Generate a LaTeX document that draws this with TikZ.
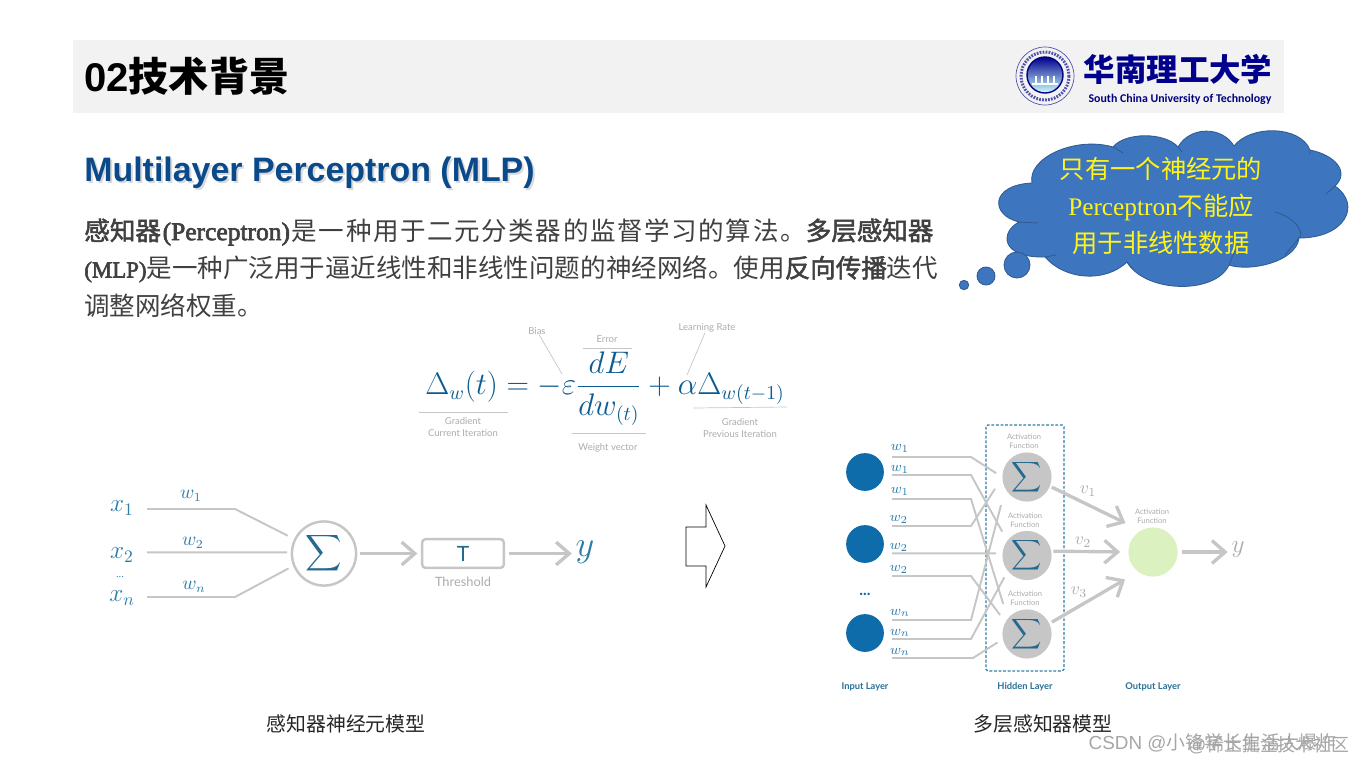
\documentclass[tikz,border=0pt]{standalone}
\usepackage{amsmath}
\usepackage[no-math]{fontspec}
\setmainfont{Liberation Serif}
\setsansfont{Liberation Sans}
\newfontfamily\cjk{Noto Sans CJK SC}
\newfontfamily\cjkbold[FakeBold=2]{Noto Sans CJK SC}
\newfontfamily\cjkwide[LetterSpace=6.3]{Noto Sans CJK SC}
\newfontfamily\enbold[FakeBold=2.5]{Liberation Serif}
\newfontfamily\latosans{Lato}
\newfontfamily\carlitosans{Carlito}
\usetikzlibrary{arrows.meta}
\newcommand{\cn}[1]{{\cjk #1}}
\newcommand{\fsz}[1]{\fontsize{#1}{1.2\dimexpr #1pt\relax}\selectfont}
\definecolor{band}{HTML}{F2F2F2}
\definecolor{wiregray}{HTML}{C6C6C6}
\definecolor{labelgray}{HTML}{ABABAB}
\definecolor{inkblue}{HTML}{2C7CA8}
\definecolor{deepblue}{HTML}{0F6CAB}
\definecolor{cloudblue}{HTML}{3D76BF}
\definecolor{cloudline}{HTML}{2F5C93}
\definecolor{headblue}{HTML}{0B4A8A}

\begin{document}
\begin{tikzpicture}[x=0.02cm, y=-0.02cm, node distance={1.57cm},
    bodyline/.style = {anchor=west, inner sep=0pt, text=black!75, font=\fsz{14.53}},
    caption/.style = {inner sep=0pt, text=black!85, font=\fsz{11.3}},
    wire/.style = {draw=wiregray, line width=1.1pt},
    thick wire/.style = {draw=wiregray, line width=1.9pt, -{Straight Barb[length=7.5pt,width=13pt]}},
    thin rule/.style = {draw=wiregray, line width=0.4pt},
    note/.style = {inner sep=0pt, align=center, text=labelgray, font=\latosans\fsz{5.4}},
    actnote/.style = {inner sep=0pt, align=center, text=labelgray, font=\latosans\fsz{4.3}},
    weight/.style = {inner sep=0pt, text=inkblue, font=\fsz{8.5}},
    bigweight/.style = {inner sep=0pt, text=inkblue, font=\fsz{10.5}},
    invalue/.style = {inner sep=0pt, text=inkblue, font=\fsz{14}},
    sumnode/.style = {draw=none, circle, fill=wiregray, minimum size=28pt, inner sep=0pt, text=inkblue!85!black, font=\fsz{11.5}},
    innode/.style = {circle, fill=deepblue, minimum size=21.5pt, inner sep=0pt},
    layerlb/.style = {inner sep=0pt, text=inkblue!90!black, font=\latosans\bfseries\fsz{5.3}},
    vlabel/.style = {inner sep=0pt, text=labelgray, font=\fsz{10}}]

    \useasboundingbox (0,0) rectangle (1355,762);

    % header
    \fill[band] (73,40) rectangle (1284,113);
    \node[anchor=west, inner sep=0pt, font=\sffamily\bfseries\fsz{22.8}] (title) at (84,76) {02\cn{技术背景}};

    \shade[top color=blue!55!black, bottom color=cyan!20, draw=blue!50!black, line width=0.8pt] (1045,75) circle (18);
    \draw[blue!35!gray, line width=1.7pt, dash pattern=on 1pt off 0.7pt] (1045,76) circle (24);
    \draw[blue!35!gray, line width=0.4pt] (1045,76) circle (29);
    \draw[white, line width=0.8pt] (1032,84) -- (1058,84) (1036,76) -- (1036,84) (1042,76) -- (1042,84) (1048,76) -- (1048,84) (1054,76) -- (1054,84);
    \node[inner sep=0pt, text=blue!55!black, font=\cjk\bfseries\fsz{17.9}] (logoname) at (1178,69) {华南理工大学};
    \node[inner sep=0pt, text=blue!50!black, font=\carlitosans\bfseries\fsz{6.75}] (logoen) at (1180,99) {South China University of Technology};

    % text
    \node[anchor=west, inner sep=0pt, text=black!15, font=\sffamily\bfseries\fsz{19.3}] (subshadow) at (86,175) {Multilayer Perceptron (MLP)};
    \node[anchor=west, inner sep=0pt, text=headblue, font=\sffamily\bfseries\fsz{19.3}] (subhead) at (84,172.5) {Multilayer Perceptron (MLP)};

    \node[bodyline] (line1) at (84,232) {{\cjkbold 感知器}\hspace{1pt}{\enbold\fsz{14.5}(Perceptron)}\hspace{1pt}{\cjkwide 是一种用于二元分类器的监督学习的算法。}{\cjkbold 多层感知器}};
    \node[bodyline] (line2) at (84,269) {{\enbold\fsz{13}(MLP)}\cn{是一种广泛用于逼近线性和非线性问题的神经网络。使用}{\cjkbold 反向传播}\cn{迭代}};
    \node[bodyline] (line3) at (84,306) {\cn{调整网络权重。}};

    % cloud
    \filldraw[fill=cloudblue, draw=cloudline, line width=0.5pt] (1032,183)
        .. controls (1027,158) and (1075,136) .. (1113,147)
        .. controls (1125,132) and (1165,132) .. (1178,147)
        .. controls (1190,126) and (1222,126) .. (1234,146)
        .. controls (1250,125) and (1300,125) .. (1310,150)
        .. controls (1335,155) and (1350,172) .. (1335,186)
        .. controls (1362,205) and (1345,238) .. (1299,238)
        .. controls (1296,262) and (1250,272) .. (1229,265)
        .. controls (1215,295) and (1145,293) .. (1127,262)
        .. controls (1105,283) and (1065,280) .. (1045,257)
        .. controls (1000,258) and (1000,232) .. (1019,222)
        .. controls (990,215) and (990,185) .. (1032,183) -- cycle;
    \draw[cloudline, line width=0.5pt] (1113,147) -- (1123,153) (1178,147) -- (1182,152) (1310,150) -- (1310,154) (1335,186) -- (1326,194);
    \draw[cloudline, line width=0.5pt] (1275,212) .. controls (1297,218) and (1305,235) .. (1299,238) -- (1285,255);
    \draw[cloudline, line width=0.5pt] (1229,265) -- (1235,250) (1127,262) -- (1132,268) (1045,257) -- (1056,255) (1019,222) -- (1038,223);
    \filldraw[fill=cloudblue, draw=cloudline, line width=0.5pt] (1017,265) circle (13);
    \filldraw[fill=cloudblue, draw=cloudline, line width=0.5pt] (986,276) circle (9);
    \filldraw[fill=cloudblue, draw=cloudline, line width=0.5pt] (964,285) circle (4.7);
    \node[inner sep=0pt, align=center, text={yellow!90!white}, font=\fsz{14.4}] (cloudtext) at (1161,206) {\cn{只有一个神经元的}\\[4pt]Perceptron\cn{不能应}\\[4pt]\cn{用于非线性数据}};

    % formula
    \node[anchor=base, inner sep=0pt, text=deepblue!85!black, font=\fsz{16}] (gradeq) at (605,394.5) {\scalebox{1.026}{$\displaystyle \Delta_w(t) = -\varepsilon\frac{dE}{dw_{(t)}} + \alpha\Delta_{w(t-1)}$}};

    \node[note] (bias) at (537,331) {Bias};
    \node[note] (error) at (607,339) {Error};
    \node[note] (rate) at (707,328) {Learning Rate};
    \node[note] (gradnow) at (463,427) {Gradient\\Current Iteration};
    \node[note] (vector) at (608,448) {Weight vector};
    \node[note] (gradold) at (740,428) {Gradient\\Previous Iteration};

    \coordinate (biasend) at (562,374);
    \coordinate (rateend) at (687,375);
    \draw[thin rule] (bias) -- (biasend);
    \draw[thin rule] (rate) -- (rateend);
    \draw[thin rule] (583,348) -- (632,348);
    \draw[thin rule] (419,412) -- (508,412);
    \draw[thin rule] (572,433) -- (646,433);
    \draw[thin rule] (693,408) -- (787,407);

    % single neuron
    \node[invalue] (x1lb) at (122,508) {$x_1$};
    \node[invalue] (x2lb) at (122,555) {$x_2$};
    \node[inner sep=0pt, text=inkblue, font=\fsz{6}] (xdots) at (120,577) {...};
    \node[invalue] (xnlb) at (122,598) {$x_n$};

    \node[draw=wiregray, circle, line width=1.4pt, minimum size=36.5pt, inner sep=0pt, text=inkblue!85!black, font=\fsz{15}] (sum0) at (324,553.5) {$\displaystyle\sum$};
    \node[draw=wiregray, rounded corners=2pt, line width=1.4pt, minimum width=46.5pt, minimum height=16.4pt, inner sep=0pt, text=inkblue!85!black, font=\latosans\fsz{12}] (tbox) at (463,553.5) {T};
    \node[inner sep=0pt, text=labelgray, font=\latosans\fsz{7.3}] (thres) at (463,582) {Threshold};
    \node[inner sep=0pt, text=inkblue, font=\fsz{20}] (yout) at (585,552) {$y$};

    \coordinate (x1s) at (147,509);
    \coordinate (x2s) at (147,552.4);
    \coordinate (xns) at (147,597);
    \draw[wire, shorten >=4pt] (x1s) -- (235,509) -- (sum0.154);
    \draw[wire, shorten >=2pt] (x2s) -- (sum0.178);
    \draw[wire, shorten >=3pt] (xns) -- (235,597) -- (sum0.202);
    \draw[thick wire, shorten <=1.5pt, shorten >=2pt] (sum0.east) -- (tbox.west);
    \draw[thick wire, shorten <=2pt, shorten >=2pt] (tbox.east) -- (tbox.east -| yout.west);

    \node[bigweight] (w1lb) at (191,496) {$w_1$};
    \node[bigweight] (w2lb) at (193,543) {$w_2$};
    \node[bigweight] (wnlb) at (194,587) {$w_n$};

    % block arrow
    \draw[black, line width=0.4pt] (686,527) -- (706,527) -- (706,505) -- (725,546) -- (706,587) -- (706,566) -- (686,566) -- cycle;

    % network
    \node[innode] (in1) at (865,472) {};
    \node[innode] (in2) at (865,544) {};
    \node[innode] (in3) at (865,633) {};
    \node[inner sep=0pt, text=deepblue, font=\latosans\bfseries\fsz{9}] (indots) at (865,594) {...};

    \node[sumnode] (h1) at (1027,477) {$\displaystyle\sum$};
    \node[sumnode] (h2) [below of=h1] {$\displaystyle\sum$};
    \node[sumnode] (h3) [below of=h2] {$\displaystyle\sum$};
    \node[circle, fill={rgb,255:red,219;green,242;blue,192}, minimum size=28pt, inner sep=0pt] (o1) at (1153,552) {};
    \node[inner sep=0pt, text=labelgray, font=\fsz{14}] (y2) at (1238,549) {$y$};

    \draw[inkblue, line width=0.7pt, dash pattern=on 1.6pt off 1pt, rounded corners=1pt] (986,425) rectangle (1064,671);

    \node[actnote] (act1) at (1024,441) {Activation\\Function};
    \node[actnote] (act2) at (1025,520) {Activation\\Function};
    \node[actnote] (act3) at (1025,598) {Activation\\Function};
    \node[actnote] (act4) at (1152,516) {Activation\\Function};

    \coordinate (w1a) at (892,457);
    \coordinate (w1b) at (892,475);
    \coordinate (w1c) at (892,499);
    \coordinate (w2a) at (892,526);
    \coordinate (w2b) at (892,553.4);
    \coordinate (w2c) at (892,576);
    \coordinate (wna) at (892,620);
    \coordinate (wnb) at (892,639);
    \coordinate (wnc) at (892,658);

    \draw[wire, shorten >=4pt] (w1a) -- (971,457) -- (h1.180);
    \draw[wire, shorten >=5.7pt] (w1b) -- (971,475) -- (h2.143);
    \draw[wire, shorten >=8.5pt] (w1c) -- (971,499) -- (h3.141);
    \draw[wire, shorten >=7.4pt] (w2a) -- (971,526) -- (h1.182);
    \draw[wire, shorten >=3.5pt] (w2b) -- (h2.175);
    \draw[wire, shorten >=4.9pt] (w2c) -- (971,576) -- (h3.151);
    \draw[wire, shorten >=9.4pt] (wna) -- (971,620) -- (h1.209);
    \draw[wire, shorten >=4pt] (wnb) -- (971,639) -- (h2.219);
    \draw[wire, shorten >=3.4pt] (wnc) -- (973,658) -- (h3.192);

    \draw[thick wire, shorten >=9.5pt, shorten <=1pt] (h1.-22) -- (o1.120);
    \draw[thick wire, shorten >=4.5pt, shorten <=1pt] (h2.10) -- (o1.180);
    \draw[thick wire, shorten >=8.5pt, shorten <=1.5pt] (h3.25) -- (o1.-127);
    \draw[thick wire, shorten <=2.5pt, shorten >=2pt] (o1.east) -- (o1.east -| y2.west);

    \node[weight] (wa) at (900,448) {$w_1$};
    \node[weight] (wb) at (900,469) {$w_1$};
    \node[weight] (wc) at (900,491) {$w_1$};
    \node[weight] (wd) at (899,519) {$w_2$};
    \node[weight] (we) at (899,547) {$w_2$};
    \node[weight] (wf) at (899,569) {$w_2$};
    \node[weight] (wg) at (900,613) {$w_n$};
    \node[weight] (wh) at (900,633) {$w_n$};
    \node[weight] (wi) at (900,652) {$w_n$};

    \node[vlabel] (v1) at (1088,491) {$v_1$};
    \node[vlabel] (v2) at (1083,542) {$v_2$};
    \node[vlabel] (v3) at (1079,592) {$v_3$};

    \node[layerlb] (inlb) at (865,687) {Input Layer};
    \node[layerlb] (hidlb) at (1025,687) {Hidden Layer};
    \node[layerlb] (outlb) at (1153,687) {Output Layer};

    % captions
    \node[caption] (cap1) at (346,724) {\cn{感知器神经元模型}};
    \node[caption] (cap2) at (1043,724) {\cn{多层感知器模型}};

    \node[anchor=east, inner sep=0pt, text=black!35, font=\sffamily\fsz{10.2}] (mark2) at (1350,745) {@\cn{稀土掘金技术社区}};
    \node[anchor=east, inner sep=0pt, text=black!35, font=\sffamily\fsz{10.75}] (mark1) at (1337,743) {CSDN @\cn{小锋学长生活大爆炸}};
\end{tikzpicture}
\end{document}
